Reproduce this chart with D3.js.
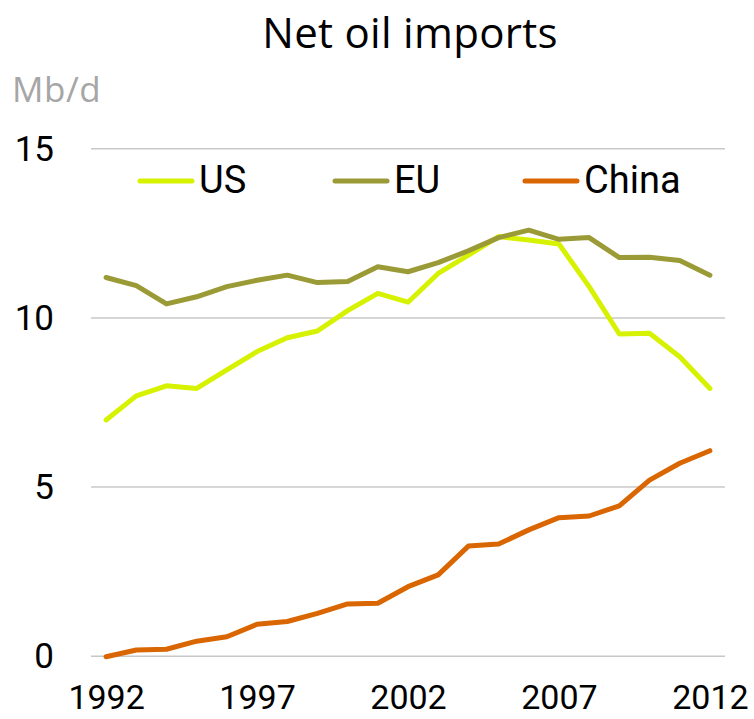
<!DOCTYPE html>
<html>
<head>
<meta charset="utf-8">
<script src="https://cdn.jsdelivr.net/npm/d3@7"></script>
<style>
  body { margin: 0; background: #fff; }
</style>
</head>
<body>
<div id="chart"></div>
<script>
// Data (Mb/d)
var years = d3.range(1992, 2013);
var usImports = [6.97, 7.68, 7.98, 7.90, 8.45, 8.99, 9.40, 9.60, 10.20, 10.71, 10.45,
                 11.30, 11.84, 12.39, 12.29, 12.17, 10.91, 9.51, 9.53, 8.84, 7.90];
var euImports = [11.18, 10.94, 10.40, 10.61, 10.91, 11.10, 11.25, 11.03, 11.06, 11.50, 11.35,
                 11.62, 11.97, 12.36, 12.58, 12.31, 12.36, 11.77, 11.78, 11.68, 11.25];
var chinaImports = [-0.03, 0.17, 0.19, 0.43, 0.56, 0.93, 1.01, 1.25, 1.53, 1.55, 2.04,
                    2.39, 3.24, 3.30, 3.72, 4.08, 4.13, 4.43, 5.19, 5.69, 6.06];
var seriesNames = ["US", "EU", "China"];
var yTicks = [0, 5, 10, 15];
var xTicks = [1992, 1997, 2002, 2007, 2012];

var colors = { US: "#d7f200", EU: "#9a9a36", China: "#d96600" };

// SVG area
var svgWidth = 754;
var svgHeight = 719;

var svg = d3.select("#chart")
  .append("svg")
  .attr("width", svgWidth)
  .attr("height", svgHeight);

// scales (points sit half a step inside the gridline ends)
var xScale = d3.scalePoint()
  .domain(years)
  .range([91, 725])
  .padding(0.5);

var yScale = d3.scaleLinear()
  .domain([0, 15])
  .range([655.7, 148.3]);

// title and unit
svg.append("text")
  .attr("x", 410)
  .attr("y", 48)
  .attr("text-anchor", "middle")
  .attr("font-family", "'Open Sans', sans-serif")
  .attr("font-size", 42)
  .attr("letter-spacing", 0.3)
  .attr("fill", "#000")
  .text("Net oil imports");

svg.append("text")
  .attr("x", 12)
  .attr("y", 102)
  .attr("font-family", "'Open Sans', sans-serif")
  .attr("font-size", 35)
  .attr("letter-spacing", 0.5)
  .attr("fill", "#a6a6a6")
  .text("Mb/d");

// y gridlines + labels
var leftAxis = d3.axisLeft(yScale)
  .tickValues(yTicks)
  .tickSize(-(725 - 91))
  .tickPadding(37);

var yAxis = svg.append("g")
  .attr("transform", "translate(91, 0)")
  .call(leftAxis);

yAxis.select(".domain").remove();
yAxis.selectAll(".tick line")
  .attr("stroke", "#c8c8c8")
  .attr("stroke-width", 1.5);
yAxis.selectAll(".tick text")
  .attr("font-family", "Roboto, sans-serif")
  .attr("font-size", 35)
  .attr("fill", "#000")
  .attr("dy", "0.34em");

// x labels
var bottomAxis = d3.axisBottom(xScale)
  .tickValues(xTicks)
  .tickSize(0)
  .tickPadding(0);

var xAxis = svg.append("g")
  .attr("transform", "translate(0, 684)")
  .call(bottomAxis);

xAxis.select(".domain").remove();
xAxis.selectAll(".tick text")
  .attr("font-family", "Roboto, sans-serif")
  .attr("font-size", 34)
  .attr("fill", "#000")
  .attr("dy", "0.74em");

// lines
var seriesData = {
  US: usImports,
  EU: euImports,
  China: chinaImports
};

var lineGen = d3.line()
  .x(function(d, i) { return xScale(years[i]); })
  .y(function(d) { return yScale(d); });

// draw China first, then US, then EU on top
["China", "US", "EU"].forEach(function(name) {
  svg.append("path")
    .datum(seriesData[name])
    .attr("d", lineGen)
    .attr("fill", "none")
    .attr("stroke", colors[name])
    .attr("stroke-width", 5)
    .attr("stroke-linecap", "round")
    .attr("stroke-linejoin", "round");
});

// legend
var legendX = [140, 335, 525];
var legend = svg.append("g");

seriesNames.forEach(function(name, i) {
  legend.append("line")
    .attr("x1", legendX[i])
    .attr("x2", legendX[i] + 52)
    .attr("y1", 181)
    .attr("y2", 181)
    .attr("stroke", colors[name])
    .attr("stroke-width", 5)
    .attr("stroke-linecap", "round");

  legend.append("text")
    .attr("x", legendX[i] + 59)
    .attr("y", 193)
    .attr("font-family", "Roboto, sans-serif")
    .attr("font-size", 38)
    .attr("fill", "#000")
    .text(name);
});
</script>
</body>
</html>
